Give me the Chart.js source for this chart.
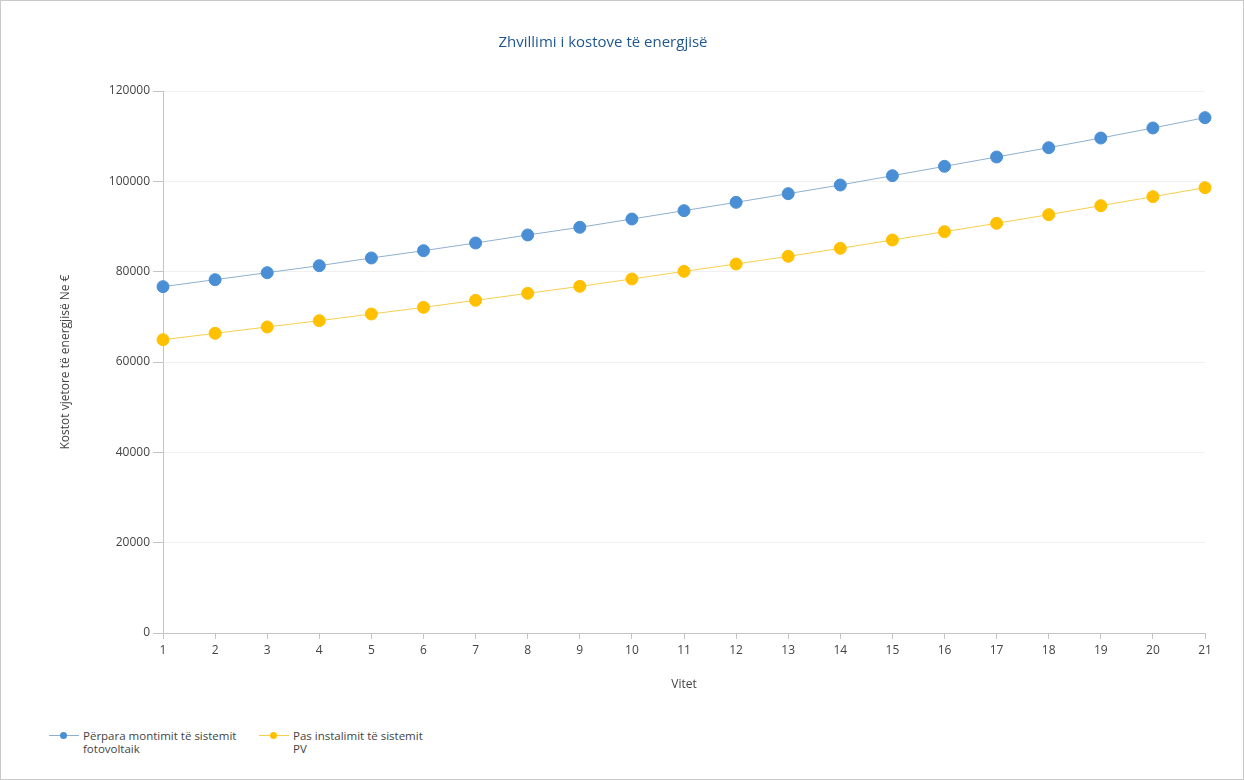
<!DOCTYPE html>
<html>
<head>
<meta charset="utf-8">
<script src="https://cdn.jsdelivr.net/npm/chart.js@4/dist/chart.umd.min.js"></script>
<style>
	html, body { margin: 0; padding: 0; background: #fff; }
	#frame { position: relative; width: 1242px; height: 778px; border: 1px solid #c9c9c9; overflow: hidden; }
	#chartBox { position: absolute; left: 0; top: 0; width: 1242px; height: 708px; }
	#legend { position: absolute; left: 48px; top: 728px; display: flex; font-family: "Open Sans", sans-serif; font-size: 11.5px; color: #444; line-height: 13px; }
	.item { display: flex; align-items: flex-start; margin-right: 8px; }
	.icon { position: relative; width: 30px; height: 13px; margin-right: 4px; }
	.icon .ln { position: absolute; left: 0; right: 0; top: 6px; height: 1px; }
	.icon .dot { position: absolute; left: 11px; top: 3px; width: 7px; height: 7px; border-radius: 50%; }
</style>
</head>
<body>
<div id="frame">
	<div id="chartBox"><canvas id="costChart"></canvas></div>
	<div id="legend"></div>
</div>
<script>
var years = ['1','2','3','4','5','6','7','8','9','10','11','12','13','14','15','16','17','18','19','20','21'];

var beforePV = [76680, 78230, 79780, 81330, 83030, 84650, 86350, 88120, 89820, 91660, 93510,
	95350, 97270, 99190, 101250, 103320, 105390, 107450, 109590, 111810, 114100];

var afterPV = [64940, 66350, 67750, 69150, 70630, 72100, 73650, 75200, 76750, 78380, 80070,
	81700, 83390, 85170, 87010, 88860, 90700, 92620, 94610, 96610, 98600];

var seriesNames = ['Përpara montimit të sistemit fotovoltaik', 'Pas instalimit të sistemit PV'];
var legendWidths = [168, 135];
var yTicks = [0, 20000, 40000, 60000, 80000, 100000, 120000];

var fontName = '"Open Sans", sans-serif';
var axisGray = '#c4c4c4';
var labelGray = '#444';

var chart = new Chart(document.getElementById('costChart').getContext('2d'), {
	type: 'line',
	data: {
		labels: years,
		datasets: [{
			label: seriesNames[0],
			data: beforePV,
			borderColor: '#8fb0cf',
			borderWidth: 1,
			pointBackgroundColor: '#4a8fd6',
			pointBorderColor: '#4a8fd6',
			pointRadius: 6,
			pointHoverRadius: 6,
			tension: 0
		}, {
			label: seriesNames[1],
			data: afterPV,
			borderColor: '#f5cf4d',
			borderWidth: 1,
			pointBackgroundColor: '#ffc000',
			pointBorderColor: '#ffc000',
			pointRadius: 6,
			pointHoverRadius: 6,
			tension: 0
		}]
	},
	options: {
		responsive: true,
		maintainAspectRatio: false,
		animation: false,
		layout: { padding: { left: 0, right: 38, top: 0, bottom: 0 } },
		plugins: {
			legend: { display: false },
			tooltip: { enabled: false },
			title: {
				display: true,
				text: 'Zhvillimi i kostove të energjisë',
				color: '#1f5791',
				font: { family: fontName, size: 15, weight: 'normal' },
				padding: { top: 33, bottom: 39 }
			}
		},
		scales: {
			x: {
				offset: false,
				border: { color: axisGray },
				grid: { drawOnChartArea: false, tickLength: 6, color: axisGray },
				ticks: { color: labelGray, font: { family: fontName, size: 12 }, padding: 4, maxRotation: 0 },
				title: {
					display: true,
					text: 'Vitet',
					color: labelGray,
					font: { family: fontName, size: 12 },
					padding: { top: 0, bottom: 17 }
				},
				afterFit: function(scale) { scale.height = 76; }
			},
			y: {
				min: 0,
				max: 120000,
				border: { color: axisGray },
				grid: { color: '#f0f0f0', tickColor: axisGray, tickLength: 10 },
				afterBuildTicks: function(scale) {
					scale.ticks = yTicks.map(function(v) { return { value: v }; });
				},
				ticks: {
					color: labelGray,
					font: { family: fontName, size: 12 },
					padding: 3,
					callback: function(v) { return String(v); }
				},
				title: {
					display: true,
					text: 'Kostot vjetore të energjisë Ne €',
					color: labelGray,
					font: { family: fontName, size: 12 },
					padding: { top: 57, bottom: 0 }
				},
				afterFit: function(scale) { scale.width = 162; }
			}
		}
	}
});

// html legend with line + dot icons and wrapped labels
var legendBox = document.getElementById('legend');
chart.data.datasets.forEach(function(ds, i) {
	var item = document.createElement('div');
	item.className = 'item';
	var icon = document.createElement('div');
	icon.className = 'icon';
	icon.innerHTML = '<div class="ln" style="background:' + ds.borderColor + '"></div>' +
		'<div class="dot" style="background:' + ds.pointBackgroundColor + '"></div>';
	var txt = document.createElement('div');
	txt.style.width = legendWidths[i] + 'px';
	txt.textContent = ds.label;
	item.appendChild(icon);
	item.appendChild(txt);
	legendBox.appendChild(item);
});
</script>
</body>
</html>
